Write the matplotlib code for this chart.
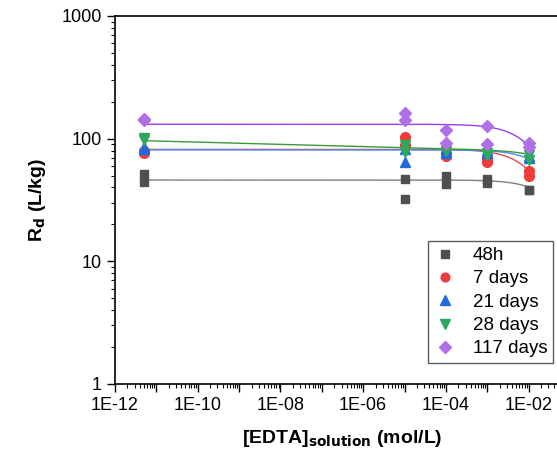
import numpy as np
import matplotlib
matplotlib.use("Agg")
import matplotlib.pyplot as plt
from matplotlib.ticker import LogLocator, FixedLocator, FixedFormatter, NullFormatter

plt.rcParams['font.family'] = ['Liberation Sans', 'DejaVu Sans']

# ---- data ----
labels = ['48h', '7 days', '21 days', '28 days', '117 days']

# EDTA concentration of each measured point (mol/L), two replicates per level
conc = [5e-12, 5e-12, 1e-5, 1e-5, 1e-4, 1e-4, 1e-3, 1e-3, 1e-2, 1e-2]

rd_48h = [52, 44.5, 47, 32, 50, 42.5, 46.5, 43.5, 37.8, 37.8]
rd_7d = [79, 77, 103, 88, 76, 72, 69, 64, 54, 50]
rd_21d = [85, 82, 83, 65, 82, 77, 81, 77, 72, 70]
rd_28d = [101, 97, 88, 78, 86, 79, 76, 73, 74, 67]
rd_117d = [145, 141, 161, 142, 118, 92, 127, 91, 92, 86]

# fitted curve parameters: Rd = R0 * C^-n / (1 + C/K)
fit_r0 = [46, 81.8, 81, 76.2, 131]
fit_n = [0, 0, 0, 0.009, 0]
fit_k = [0.07, 0.0205, 0.054, 0.15, 0.02]

series = [rd_48h, rd_7d, rd_21d, rd_28d, rd_117d]
markers = ['s', 'o', '^', 'v', 'D']
msizes = [6, 7, 7.5, 7.5, 6.5]
mcolors = ['#4f4f4f', '#ef3b3b', '#1f6ae0', '#2ea85e', '#b06fe6']
lcolors = ['#808080', '#e84a4a', '#4a8cf5', '#3a9a3a', '#9a3cf0']

fig = plt.figure(figsize=(5.57, 4.51), dpi=100)
ax = fig.add_axes([115 / 557, 1 - 384 / 451, 455 / 557, 368 / 451])

cfit = np.logspace(np.log10(5e-12), -2, 400)
for i in range(len(series)):
    curve = fit_r0[i] * cfit ** (-fit_n[i]) / (1 + cfit / fit_k[i])
    ax.plot(cfit, curve, color=lcolors[i], lw=1.0, zorder=2)

for i, rd in enumerate(series):
    ax.plot(conc, rd, ls='none', marker=markers[i], ms=msizes[i],
            color=mcolors[i], mec=mcolors[i], label=labels[i], zorder=3)

ax.set_xscale('log')
ax.set_yscale('log')
ax.set_xlim(1e-12, 1e-1)
ax.set_ylim(1, 1000)

# x ticks: every decade, labels every other decade
xmaj = [10.0 ** e for e in range(-12, 0)]
xlab = ['1E-%02d' % (-e) if e % 2 == 0 else '' for e in range(-12, 0)]
ax.xaxis.set_major_locator(FixedLocator(xmaj))
ax.xaxis.set_major_formatter(FixedFormatter(xlab))
ax.xaxis.set_minor_locator(LogLocator(base=10, subs=np.arange(2, 10), numticks=30))
ax.xaxis.set_minor_formatter(NullFormatter())

ax.yaxis.set_major_locator(FixedLocator([1, 10, 100, 1000]))
ax.yaxis.set_major_formatter(FixedFormatter(['1', '10', '100', '1000']))
ax.yaxis.set_minor_locator(LogLocator(base=10, subs=np.arange(2, 10), numticks=10))
ax.yaxis.set_minor_formatter(NullFormatter())

ax.tick_params(which='major', direction='out', length=6, width=1, labelsize=13, colors='black')
ax.tick_params(which='minor', direction='out', length=3, width=0.8)
ax.spines['right'].set_visible(False)
for s in ['left', 'bottom', 'top']:
    ax.spines[s].set_linewidth(1.2)

ax.set_xlabel(r'[EDTA]$_{\mathbf{solution}}$ (mol/L)', fontsize=14, fontweight='bold', labelpad=10)
ax.set_ylabel(r'R$_{\mathbf{d}}$ (L/kg)', fontsize=14, fontweight='bold', labelpad=10)

leg = ax.legend(loc='lower right', bbox_to_anchor=(0.963, 0.057), borderaxespad=0,
                fontsize=13.5, frameon=True, fancybox=False, edgecolor='#333333',
                handlelength=1.2, handletextpad=0.9, labelspacing=0.33,
                borderpad=0.3, markerscale=0.9)
leg.get_frame().set_linewidth(1.0)

fig.savefig('out.png', dpi=100)
